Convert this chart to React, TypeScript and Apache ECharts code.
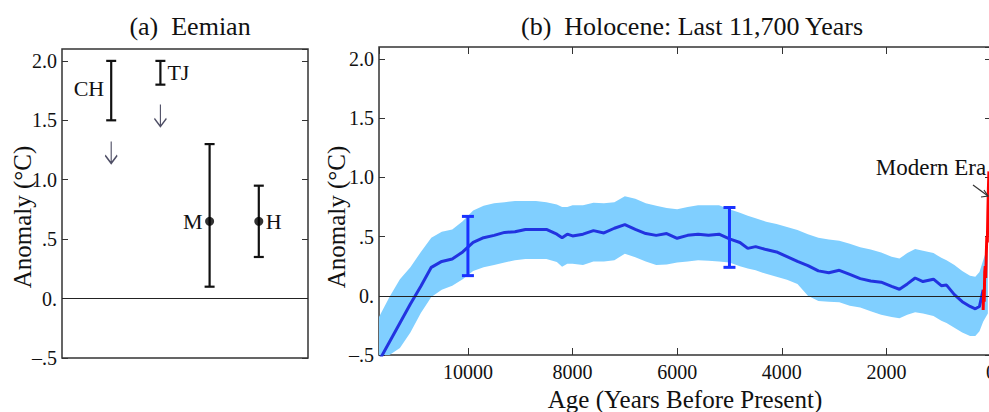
import React, { useEffect, useRef } from "react";
import * as echarts from "echarts";

// ---------- Panel (a): Eemian ----------
const eemianSites = ["CH", "TJ", "M", "H"];
const eemianX = [1, 2, 3, 4];
const eemianLow = [1.5, 1.8, 0.1, 0.35];
const eemianHigh = [2.0, 2.0, 1.3, 0.95];
const eemianCentral: (number | null)[] = [null, null, 0.65, 0.65];
const eemianLabelY = [1.77, 1.9, 0.65, 0.65];
const eemianLabelSide = ["left", "right", "left", "right"];
const eemianArrowX = [1, 2];
const eemianArrowY = [1.23, 1.54];

// ---------- Panel (b): Holocene ----------
const ages = [
  11700, 11500, 11300, 11100, 10900, 10700, 10500, 10300, 10100,
  9900, 9700, 9500, 9300, 9100, 8900, 8700, 8500, 8300,
  8200, 8100, 8000,
  7800, 7600, 7400, 7200, 7000, 6800, 6600, 6400, 6200, 6000, 5800, 5600, 5400, 5200, 5000,
  4800, 4650, 4500,
  4300, 4100, 3900, 3700, 3500, 3300, 3100, 2900, 2700, 2500, 2300, 2100, 1900,
  1750, 1600, 1450, 1300,
  1100, 950, 850, 700, 550, 400, 300, 220, 150, 60,
];
const meanAnom: (number | null)[] = [
  -0.55, -0.39, -0.23, -0.07, 0.08, 0.24, 0.29, 0.31, 0.37,
  0.45, 0.49, 0.51, 0.535, 0.54, 0.56, 0.56, 0.56, 0.52,
  0.49, 0.52, 0.505,
  0.52, 0.55, 0.53, 0.57, 0.6, 0.56, 0.525, 0.51, 0.525, 0.485, 0.51, 0.52, 0.51, 0.52, 0.48,
  0.45, 0.4, 0.415,
  0.39, 0.37, 0.33, 0.29, 0.255, 0.21, 0.195, 0.215, 0.18, 0.145, 0.125, 0.115, 0.08,
  0.055, 0.1, 0.15, 0.12,
  0.14, 0.085, 0.09, 0.01, -0.05, -0.09, -0.11, -0.09, 0.05, null,
];
const upperAnom = [
  -0.18, -0.01, 0.14, 0.24, 0.37, 0.49, 0.54, 0.56, 0.63,
  0.72, 0.76, 0.78, 0.79, 0.8, 0.8, 0.8, 0.79, 0.77,
  0.75, 0.75, 0.765,
  0.765, 0.785, 0.78, 0.79, 0.84, 0.82, 0.78, 0.76, 0.74, 0.73, 0.75, 0.765, 0.765, 0.765, 0.73,
  0.7, 0.675, 0.655,
  0.625, 0.605, 0.58, 0.555, 0.52, 0.49, 0.475, 0.465, 0.44, 0.41, 0.39, 0.365, 0.33,
  0.315, 0.36, 0.395, 0.38,
  0.36, 0.32, 0.3, 0.26, 0.21, 0.17, 0.16, 0.2, 0.3, 0.42,
];
const lowerAnom = [
  -0.72, -0.58, -0.44, -0.31, -0.145, -0.01, 0.05, 0.085, 0.14,
  0.21, 0.24, 0.26, 0.28, 0.3, 0.31, 0.31, 0.31, 0.285,
  0.245, 0.27, 0.27,
  0.26, 0.29, 0.29, 0.3, 0.355, 0.325, 0.29, 0.26, 0.265, 0.28, 0.29, 0.3, 0.295, 0.29, 0.28,
  0.25, 0.23, 0.215,
  0.185, 0.16, 0.135, 0.1, 0.0, -0.045, -0.05, -0.055, -0.085, -0.1, -0.13, -0.16, -0.18,
  -0.19, -0.16, -0.14, -0.15,
  -0.17, -0.21, -0.23, -0.27, -0.31, -0.34, -0.34, -0.3, -0.22, -0.15,
];
const holoErrAges = [10000, 5000];
const holoErrLow = [0.17, 0.24];
const holoErrHigh = [0.67, 0.745];
const modernAges = [150, 140, 130, 120, 110, 100, 90, 80, 70, 60, 50, 40];
const modernAnom = [-0.12, 0.05, -0.05, 0.2, 0.25, 0.15, 0.35, 0.5, 0.45, 0.7, 0.9, 1.05];

const yTickLabels: Record<string, string> = {
  "-0.5": "–.5",
  "0": "0.",
  "0.5": ".5",
  "1": "1.0",
  "1.5": "1.5",
  "2": "2.0",
};

const FONT = "'Liberation Serif', 'Times New Roman', Times, serif";
const TXT = "#111";
const FRAME = "#333";

const yFmt = (v: number) => yTickLabels[String(Math.round(v * 10) / 10)] ?? "";

function errorBarRenderer(color: string, width: number, halfCap: number) {
  return (_params: any, api: any) => {
    const x = api.value(0);
    const lo = api.value(1);
    const hi = api.value(2);
    const pTop = api.coord([x, hi]);
    const pBot = api.coord([x, lo]);
    const style = { stroke: color, lineWidth: width };
    return {
      type: "group",
      children: [
        { type: "line", shape: { x1: pTop[0], y1: pTop[1], x2: pBot[0], y2: pBot[1] }, style },
        { type: "line", shape: { x1: pTop[0] - halfCap, y1: pTop[1], x2: pTop[0] + halfCap, y2: pTop[1] }, style },
        { type: "line", shape: { x1: pBot[0] - halfCap, y1: pBot[1], x2: pBot[0] + halfCap, y2: pBot[1] }, style },
      ],
    };
  };
}

// Site labels placed beside their error bars
function siteLabelRenderer(params: any, api: any) {
  const i = params.dataIndex;
  const p = api.coord([api.value(0), api.value(1)]);
  const left = eemianLabelSide[i] === "left";
  return {
    type: "text",
    x: p[0] + (left ? -7 : 7),
    y: p[1],
    style: {
      text: eemianSites[i],
      font: `22px ${FONT}`,
      fill: TXT,
      align: left ? "right" : "left",
      verticalAlign: "middle",
    },
  };
}

// Uncertainty band: one polygon built from the upper edge then the lower edge (reversed)
function bandRenderer(params: any, api: any) {
  if (params.dataIndex !== 0) return null;
  const cs = params.coordSys;
  const top = cs.y;
  const bottom = cs.y + cs.height;
  const clampY = (p: number[]) => [p[0], Math.min(bottom, Math.max(top, p[1]))];
  const pts: number[][] = [];
  for (let i = 0; i < ages.length; i++) pts.push(api.coord([ages[i], upperAnom[i]]));
  for (let i = ages.length - 1; i >= 0; i--) pts.push(api.coord([ages[i], lowerAnom[i]]));
  return {
    type: "polygon",
    shape: { points: pts.map(clampY) },
    style: { fill: "#80cfff", stroke: "none" },
  };
}

const zeroLine = {
  silent: true,
  symbol: ["none", "none"],
  label: { show: false },
  lineStyle: { color: "#222", width: 1, type: "solid" },
  data: [{ yAxis: 0 }],
};

function yAxisDef(gridIndex: number, position: "left" | "right", labels: boolean) {
  return {
    type: "value",
    gridIndex,
    position,
    min: -0.5,
    max: 2.1,
    interval: 0.5,
    axisLine: { show: false, onZero: false },
    axisTick: { show: true, inside: true, length: 6, lineStyle: { color: FRAME, width: 1 } },
    splitLine: { show: false },
    axisLabel: {
      show: labels,
      formatter: yFmt,
      showMaxLabel: false,
      fontFamily: FONT,
      fontSize: 20,
      color: TXT,
      margin: 5,
    },
  };
}

function holoXAxis(position: "top" | "bottom", labels: boolean) {
  return {
    type: "value",
    gridIndex: 1,
    position,
    inverse: true,
    min: 0,
    max: 11700,
    interval: 2000,
    axisLine: { show: false, onZero: false },
    axisTick: { show: true, inside: true, length: 7, lineStyle: { color: FRAME, width: 1 } },
    splitLine: { show: false },
    axisLabel: {
      show: labels,
      showMaxLabel: false,
      formatter: (v: number) => String(v),
      fontFamily: FONT,
      fontSize: 20,
      color: TXT,
      margin: 7,
    },
    name: labels ? "Age (Years Before Present)" : "",
    nameLocation: "middle",
    nameGap: 31,
    nameTextStyle: { fontFamily: FONT, fontSize: 25, color: TXT },
  };
}

const option: any = {
  animation: false,
  backgroundColor: "#fff",
  title: [
    {
      text: "(a)  Eemian",
      left: 185,
      top: 8,
      textAlign: "center",
      textStyle: { fontFamily: FONT, fontSize: 26, fontWeight: "normal", color: TXT },
    },
    {
      text: "(b)  Holocene: Last 11,700 Years",
      left: 687,
      top: 8,
      textAlign: "center",
      textStyle: { fontFamily: FONT, fontSize: 26, fontWeight: "normal", color: TXT },
    },
  ],
  grid: [
    {
      left: 62, top: 49, width: 246, height: 309,
      show: true, borderColor: FRAME, borderWidth: 1.5, backgroundColor: "transparent",
      containLabel: false, outerBoundsMode: "none",
    },
    {
      left: 379, top: 47, width: 612, height: 308,
      show: true, borderColor: FRAME, borderWidth: 1.5, backgroundColor: "transparent",
      containLabel: false, outerBoundsMode: "none",
    },
  ],
  xAxis: [
    { type: "value", gridIndex: 0, min: 0, max: 5, show: false, axisLine: { onZero: false } },
    holoXAxis("bottom", true),
    holoXAxis("top", false),
  ],
  yAxis: [
    yAxisDef(0, "left", true),
    yAxisDef(0, "right", false),
    yAxisDef(1, "left", true),
    yAxisDef(1, "right", false),
  ],
  series: [
    // ---- Eemian ----
    {
      type: "custom",
      xAxisIndex: 0,
      yAxisIndex: 0,
      silent: true,
      renderItem: errorBarRenderer("#111", 2.2, 5),
      encode: { x: 0, y: [1, 2] },
      data: eemianX.map((x, i) => [x, eemianLow[i], eemianHigh[i]]),
      z: 3,
    },
    {
      type: "scatter",
      xAxisIndex: 0,
      yAxisIndex: 0,
      silent: true,
      symbol: "circle",
      symbolSize: 9,
      itemStyle: { color: "#000" },
      data: eemianX
        .map((x, i) => (eemianCentral[i] === null ? null : [x, eemianCentral[i]]))
        .filter((d) => d !== null),
      markLine: zeroLine,
      z: 4,
    },
    {
      type: "custom",
      xAxisIndex: 0,
      yAxisIndex: 0,
      silent: true,
      renderItem: siteLabelRenderer,
      encode: { x: 0, y: 1 },
      data: eemianX.map((x, i) => [x, eemianLabelY[i]]),
      z: 5,
    },
    {
      type: "scatter",
      xAxisIndex: 0,
      yAxisIndex: 0,
      silent: true,
      symbol: "path://M6 0 L6 22 M0.5 14 L6 22 L11.5 14",
      symbolSize: [12, 22],
      itemStyle: { color: "rgba(0,0,0,0)", borderColor: "#22223e", borderWidth: 1.5 },
      data: eemianArrowX.map((x, i) => [x, eemianArrowY[i]]),
      z: 5,
    },
    // ---- Holocene ----
    {
      type: "custom",
      xAxisIndex: 1,
      yAxisIndex: 2,
      silent: true,
      renderItem: bandRenderer,
      encode: { x: 0, y: [1, 2] },
      data: ages.map((a, i) => [a, lowerAnom[i], upperAnom[i]]),
      z: 1,
    },
    {
      type: "line",
      xAxisIndex: 1,
      yAxisIndex: 2,
      silent: true,
      symbol: "none",
      lineStyle: { color: "#2233e0", width: 3 },
      data: ages.map((a, i) => [a, meanAnom[i]]),
      markLine: zeroLine,
      z: 3,
    },
    {
      type: "custom",
      xAxisIndex: 1,
      yAxisIndex: 2,
      silent: true,
      renderItem: errorBarRenderer("#1a33ff", 3, 6),
      encode: { x: 0, y: [1, 2] },
      data: holoErrAges.map((a, i) => [a, holoErrLow[i], holoErrHigh[i]]),
      z: 4,
    },
    {
      type: "line",
      xAxisIndex: 1,
      yAxisIndex: 2,
      silent: true,
      symbol: "none",
      lineStyle: { color: "#ff0000", width: 3 },
      data: modernAges.map((a, i) => [a, modernAnom[i]]),
      z: 5,
    },
  ],
  graphic: [
    {
      type: "text",
      x: 22,
      y: 217,
      z: 100,
      rotation: Math.PI / 2,
      style: {
        text: "Anomaly (°C)",
        font: `25px ${FONT}`,
        fill: TXT,
        align: "center",
        verticalAlign: "middle",
      },
    },
    {
      type: "text",
      x: 336,
      y: 217,
      z: 100,
      rotation: Math.PI / 2,
      style: {
        text: "Anomaly (°C)",
        font: `25px ${FONT}`,
        fill: TXT,
        align: "center",
        verticalAlign: "middle",
      },
    },
    {
      type: "text",
      x: 931,
      y: 167,
      z: 100,
      style: {
        text: "Modern Era",
        font: `23px ${FONT}`,
        fill: TXT,
        align: "center",
        verticalAlign: "middle",
      },
    },
    {
      type: "line",
      z: 100,
      shape: { x1: 973, y1: 185, x2: 988, y2: 196 },
      style: { stroke: "#333", lineWidth: 1.2 },
    },
    {
      type: "polyline",
      z: 100,
      shape: { points: [[981, 197], [988, 196], [984, 190]] },
      style: { stroke: "#333", lineWidth: 1.2, fill: "none" },
    },
  ],
};

export default function App() {
  const ref = useRef<HTMLDivElement>(null);
  useEffect(() => {
    document.body.style.margin = "0";
    const chart = echarts.init(ref.current!, null, { renderer: "svg" });
    chart.setOption(option);
    return () => chart.dispose();
  }, []);
  return <div ref={ref} style={{ width: 989, height: 412 }} />;
}
